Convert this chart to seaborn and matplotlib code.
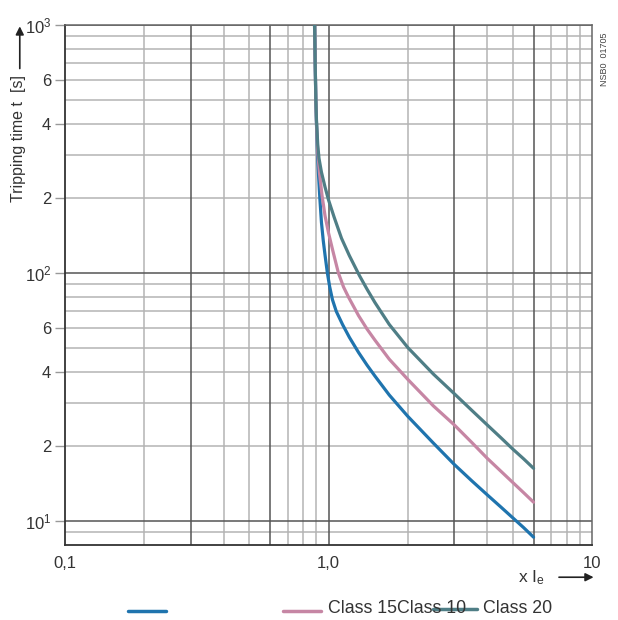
import matplotlib
matplotlib.use("Agg")
import matplotlib.pyplot as plt
from matplotlib.lines import Line2D
import pandas as pd
import seaborn as sns

sns.set_style("white")
plt.rcParams['font.family'] = ['Liberation Sans', 'DejaVu Sans']
plt.rcParams['mathtext.fontset'] = 'custom'
plt.rcParams['mathtext.rm'] = 'Liberation Sans'
plt.rcParams['mathtext.it'] = 'Liberation Sans'

# tripping curves (multiple of Ie, seconds)
x_class10 = [0.885, 0.89, 0.895, 0.90, 0.908, 0.918, 0.927, 0.94, 0.955, 0.97, 0.99, 1.01, 1.035,
             1.07, 1.13, 1.2, 1.3, 1.4, 1.5, 1.7, 2.0, 2.5, 3.0, 3.5, 4.0, 4.5, 5.0, 5.5, 6.0]
t_class10 = [1000, 700, 500, 400, 300, 240, 200, 160, 135, 118, 100, 88, 78,
             70, 62, 55, 47.8, 42.5, 38.4, 32.2, 26.4, 20.6, 16.9, 14.5, 12.75, 11.4, 10.3, 9.4, 8.6]
x_class15 = [0.885, 0.89, 0.895, 0.90, 0.91, 0.925, 0.945, 0.97, 1.0, 1.04, 1.09, 1.14, 1.19,
             1.3, 1.4, 1.5, 1.7, 2.0, 2.5, 3.0, 3.5, 4.0, 4.5, 5.0, 5.5, 6.0]
t_class15 = [1000, 700, 500, 400, 308, 250, 205, 170, 145, 122, 100, 87.8, 80,
             67.3, 59.4, 53.6, 44.9, 37.2, 29.1, 24.4, 20.7, 17.9, 15.9, 14.3, 13.0, 11.9]
x_class20 = [0.885, 0.89, 0.895, 0.90, 0.91, 0.92, 0.94, 0.97, 1.0, 1.05, 1.12, 1.2, 1.31,
             1.4, 1.5, 1.7, 2.0, 2.5, 3.0, 3.5, 4.0, 4.5, 5.0, 5.5, 6.0]
t_class20 = [1000, 700, 500, 414, 330, 290, 255, 222, 197, 168, 138, 117.4, 97.6,
             86, 76, 62, 50, 39.1, 32.6, 27.9, 24.4, 21.7, 19.5, 17.8, 16.3]

classes = ['Class 10', 'Class 15', 'Class 20']
colors = ['#1f74ae', '#c686a4', '#4f7e86']

y_ticks = [10, 20, 40, 60, 100, 200, 400, 600, 1000]
y_labels = ['$10^1$', '2', '4', '6', '$10^2$', '2', '4', '6', '$10^3$']
x_ticks = [0.1, 1, 10]
x_labels = ['0,1', '1,0', '10']

x_dark = [0.3, 0.6, 1, 3, 6]
x_light = [0.2, 0.4, 0.5, 0.7, 0.8, 0.9, 2, 4, 5, 7, 8, 9]
y_dark = [10, 100, 1000]
y_light = [9, 20, 30, 40, 50, 60, 70, 80, 90, 200, 300, 400, 500, 600, 700, 800, 900]

df = pd.concat([
    pd.DataFrame({'x': x_class10, 't': t_class10, 'cls': 'Class 10'}),
    pd.DataFrame({'x': x_class15, 't': t_class15, 'cls': 'Class 15'}),
    pd.DataFrame({'x': x_class20, 't': t_class20, 'cls': 'Class 20'}),
])

fig = plt.figure(figsize=(6.18, 6.20), dpi=100)
ax = fig.add_axes([0.1052, 0.1210, 0.8528, 0.8387])

for v in x_light:
    ax.axvline(v, color='#b4b4b4', lw=1.1, zorder=1)
for v in y_light:
    ax.axhline(v, color='#b4b4b4', lw=1.1, zorder=1)
for v in x_dark:
    ax.axvline(v, color='#555555', lw=1.1, zorder=1)
for v in y_dark:
    ax.axhline(v, color='#555555', lw=1.1, zorder=1)

sns.lineplot(data=df, x='x', y='t', hue='cls', hue_order=classes,
             palette=dict(zip(classes, colors)), sort=False, estimator=None,
             lw=2.3, legend=False, ax=ax, zorder=3)
for line in ax.get_lines():
    line.set_solid_joinstyle('round')

ax.set_xscale('log')
ax.set_yscale('log')
ax.set_xlim(0.1, 10)
ax.set_ylim(8, 1000)
ax.minorticks_off()
ax.set_xticks(x_ticks)
ax.set_xticklabels(x_labels)
ax.set_yticks(y_ticks)
ax.set_yticklabels(y_labels)
ax.tick_params(axis='x', length=0, pad=8, labelsize=12, labelcolor='#333333')
ax.tick_params(axis='y', length=7, width=1, color='#999999', pad=3,
               labelsize=12, labelcolor='#333333', left=True)
ax.set_xlabel('')
ax.set_ylabel('')
for side in ['left', 'bottom']:
    ax.spines[side].set_color('#333333')
    ax.spines[side].set_linewidth(1.3)
for side in ['top', 'right']:
    ax.spines[side].set_color('#666666')
    ax.spines[side].set_linewidth(1.1)

# axis titles with arrows
fig.text(0.030, 0.777, 'Tripping time t  [s]', rotation=90, ha='center', va='center',
         fontsize=11.5, color='#333333')
ax.annotate('', xy=(0.032, 0.962), xytext=(0.032, 0.885), xycoords='figure fraction',
            arrowprops=dict(arrowstyle='-|>', color='#222222', lw=1.2, mutation_scale=12))
fig.text(0.838, 0.069, 'x I$_e$', ha='left', va='center', fontsize=12.5, color='#333333')
ax.annotate('', xy=(0.965, 0.069), xytext=(0.900, 0.069), xycoords='figure fraction',
            arrowprops=dict(arrowstyle='-|>', color='#222222', lw=1.2, mutation_scale=12))
fig.text(0.978, 0.905, 'NSB0  01705', rotation=90, ha='center', va='center',
         fontsize=6.5, color='#444444')

# legend row as it appears in the picture
fig.add_artist(Line2D([0.207, 0.269], [0.015, 0.015], color=colors[0], lw=2.5))
fig.add_artist(Line2D([0.458, 0.519], [0.015, 0.015], color=colors[1], lw=2.5))
fig.text(0.530, 0.019, 'Class 15Class 10', ha='left', va='center', fontsize=12.8, color='#333333')
fig.add_artist(Line2D([0.700, 0.772], [0.018, 0.018], color=colors[2], lw=2.5))
fig.text(0.782, 0.019, 'Class 20', ha='left', va='center', fontsize=12.8, color='#333333')

fig.savefig('out.png', dpi=100)
